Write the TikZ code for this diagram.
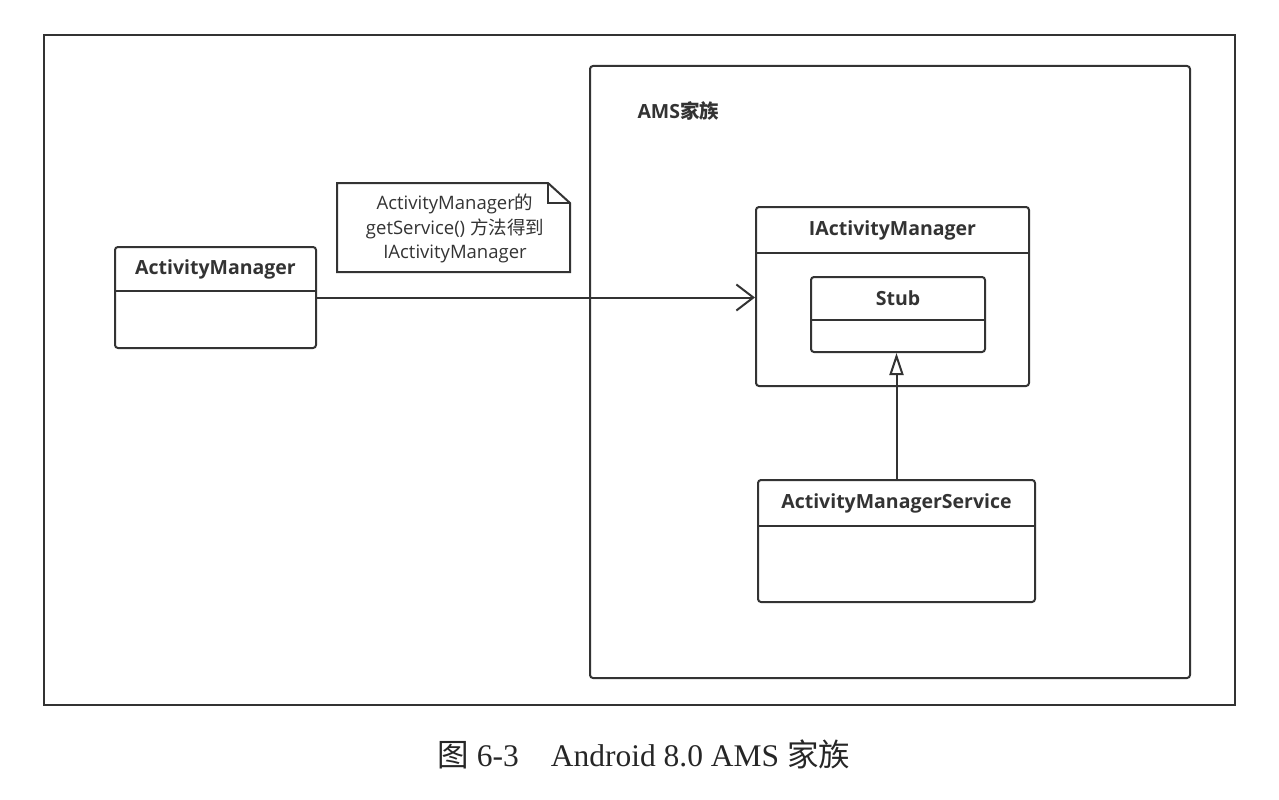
\documentclass[tikz,border=0pt]{standalone}
\usepackage{fontspec}
\setmainfont{Liberation Serif}
\newfontfamily\umlfont{Open Sans}
\newfontfamily\cjk{Noto Sans CJK SC}
\usetikzlibrary{arrows.meta}

\tikzset{
  umlline/.style={draw=black!80, line width=2pt},
  classbox/.style={umlline, rounded corners=3pt, inner sep=0pt},
  classname/.style={font=\umlfont\bfseries\fontsize{19.5}{22}\selectfont, text=black!80},
  notetext/.style={font=\umlfont\fontsize{18.5}{24.5}\selectfont, text=black!80, align=center},
}

\begin{document}
\begin{tikzpicture}[x=1pt,y=-1pt]
\useasboundingbox (0,0) rectangle (1279,800);

%frame
\draw[black!80, line width=1.5pt] (44,35) rectangle (1235,705);
\draw[umlline, rounded corners=3pt] (590,66) rectangle (1190,678);
\node[classname, anchor=west] (family) at (634,111) {AMS{\cjk 家族}};

% classes
\node[classbox, minimum width=201pt, minimum height=101pt] (am) at (215.5,297.5) {};
\draw[umlline] (115,291) -- (316,291);
\node[classname] (amname) at (215.5,269) {ActivityManager};

\node[classbox, minimum width=273pt, minimum height=179pt] (iam) at (892.5,296.5) {};
\draw[umlline] (756,253) -- (1029,253);
\node[classname] (iamname) at (892.5,230) {IActivityManager};

\node[classbox, minimum width=174pt, minimum height=75pt] (stub) at (898,314.5) {};
\draw[umlline] (811,320) -- (985,320);
\node[classname] (stubname) at (898,298.5) {Stub};

\node[classbox, minimum width=277pt, minimum height=122pt] (ams) at (896.5,541) {};
\draw[umlline] (758,526) -- (1035,526);
\node[classname] (amsname) at (896.5,503) {ActivityManagerService};

% note
\draw[umlline] (337,183) -- (548,183) -- (570,203) -- (570,272) -- (337,272) -- cycle;
\draw[umlline] (548,183) -- (548,203) -- (570,203);
\node[notetext] (note) at (455,228.5) {ActivityManager{\cjk 的}\\getService() {\cjk 方法得到}\\IActivityManager};

% connectors
\draw[umlline, -{Straight Barb[length=17pt, width=26pt]}] (am.east) -- (am.east -| iam.west);
\draw[umlline, -{Triangle[open, length=22pt, width=14pt]}] (ams.north) -- (ams.north |- stub.south);

% caption
\node[anchor=base west, font=\fontsize{31.5}{36}\selectfont, text=black!85] (caption) at (434,766)
  {{\cjk 图} 6-3\hspace{32pt}Android 8.0 AMS {\cjk 家族}};

\end{tikzpicture}
\end{document}
